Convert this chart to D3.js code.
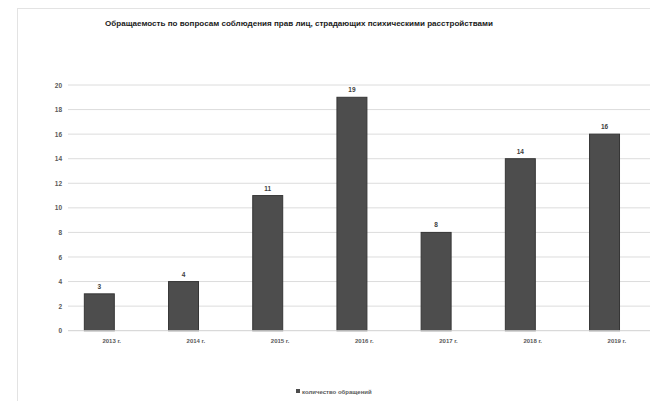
<!DOCTYPE html>
<html><head><meta charset="utf-8">
<script src="https://cdn.jsdelivr.net/npm/d3@7"></script>
<style>html,body{margin:0;padding:0;background:#fff;}svg{display:block;}</style>
</head><body>
<svg id="c" width="650" height="401"></svg>
<script>
const title = "Обращаемость по вопросам соблюдения прав лиц, страдающих психическими расстройствами";
const categories = ["2013 г.", "2014 г.", "2015 г.", "2016 г.", "2017 г.", "2018 г.", "2019 г."];
const values = [3, 4, 11, 19, 8, 14, 16];
const seriesName = "количество обращений";
const yTicks = [0, 2, 4, 6, 8, 10, 12, 14, 16, 18, 20];

const svg = d3.select("#c");
const font = "Liberation Sans, Arial, sans-serif";

// frame
svg.append("rect").attr("x", 17.5).attr("y", 8.5).attr("width", 640).attr("height", 400)
  .attr("fill", "#fff").attr("stroke", "#e3e3e3");

const x = d3.scaleBand().domain(categories).range([69.6, 659]).padding(0);
const y = d3.scaleLinear().domain([0, 20]).range([330.7, 85]);

// gridlines
svg.append("g").selectAll("line").data(yTicks.filter(t => t > 0)).join("line")
  .attr("x1", 68).attr("x2", 650)
  .attr("y1", d => y(d)).attr("y2", d => y(d))
  .attr("stroke", "#dcdcdc").attr("stroke-width", 1);

// y axis labels
const yAxis = d3.axisLeft(y).tickValues(yTicks).tickSize(0).tickPadding(6);
const gy = svg.append("g").attr("transform", "translate(68,0)").call(yAxis);
gy.select(".domain").remove();
gy.selectAll("text").attr("font-family", font).attr("font-size", 6.5).attr("fill", "#595959").attr("font-weight", "bold");

// bars
const barOff = 0.175, barW = 0.356;
svg.append("g").selectAll("rect").data(values).join("rect")
  .attr("x", (d, i) => x(categories[i]) + x.bandwidth() * barOff)
  .attr("width", x.bandwidth() * barW)
  .attr("y", d => y(d))
  .attr("height", d => y(0) - y(d))
  .attr("fill", "#4d4d4d").attr("stroke", "#363636").attr("stroke-width", 1);

// baseline
svg.append("line").attr("x1", 68).attr("x2", 650).attr("y1", y(0)).attr("y2", y(0))
  .attr("stroke", "#d0d0d0").attr("stroke-width", 1);

// value labels
svg.append("g").selectAll("text").data(values).join("text")
  .attr("x", (d, i) => x(categories[i]) + x.bandwidth() * (barOff + barW / 2))
  .attr("y", d => y(d) - 5)
  .attr("text-anchor", "middle")
  .attr("font-family", font).attr("font-size", 6.5).attr("font-weight", "bold").attr("fill", "#404040")
  .text(d => d);

// x axis labels
const xAxis = d3.axisBottom(x).tickSize(0).tickPadding(8);
const gx = svg.append("g").attr("transform", `translate(0,${y(0)})`).call(xAxis);
gx.select(".domain").remove();
gx.selectAll("text").attr("font-family", font).attr("font-size", 6).attr("fill", "#595959").attr("font-weight", "bold");

// title
svg.append("text").attr("x", 105).attr("y", 26)
  .attr("font-family", font).attr("font-size", 7.5).attr("font-weight", "bold").attr("fill", "#1a1a1a")
  .attr("textLength", 388).attr("lengthAdjust", "spacingAndGlyphs")
  .text(title);

// legend
const lg = svg.append("g").attr("transform", "translate(296,392)");
lg.append("rect").attr("x", 0).attr("y", -3).attr("width", 4).attr("height", 4).attr("fill", "#4d4d4d");
lg.append("text").attr("x", 6).attr("y", 1.5)
  .attr("font-family", font).attr("font-size", 6).attr("font-weight", "bold").attr("fill", "#595959")
  .text(seriesName);
</script>
</body></html>
